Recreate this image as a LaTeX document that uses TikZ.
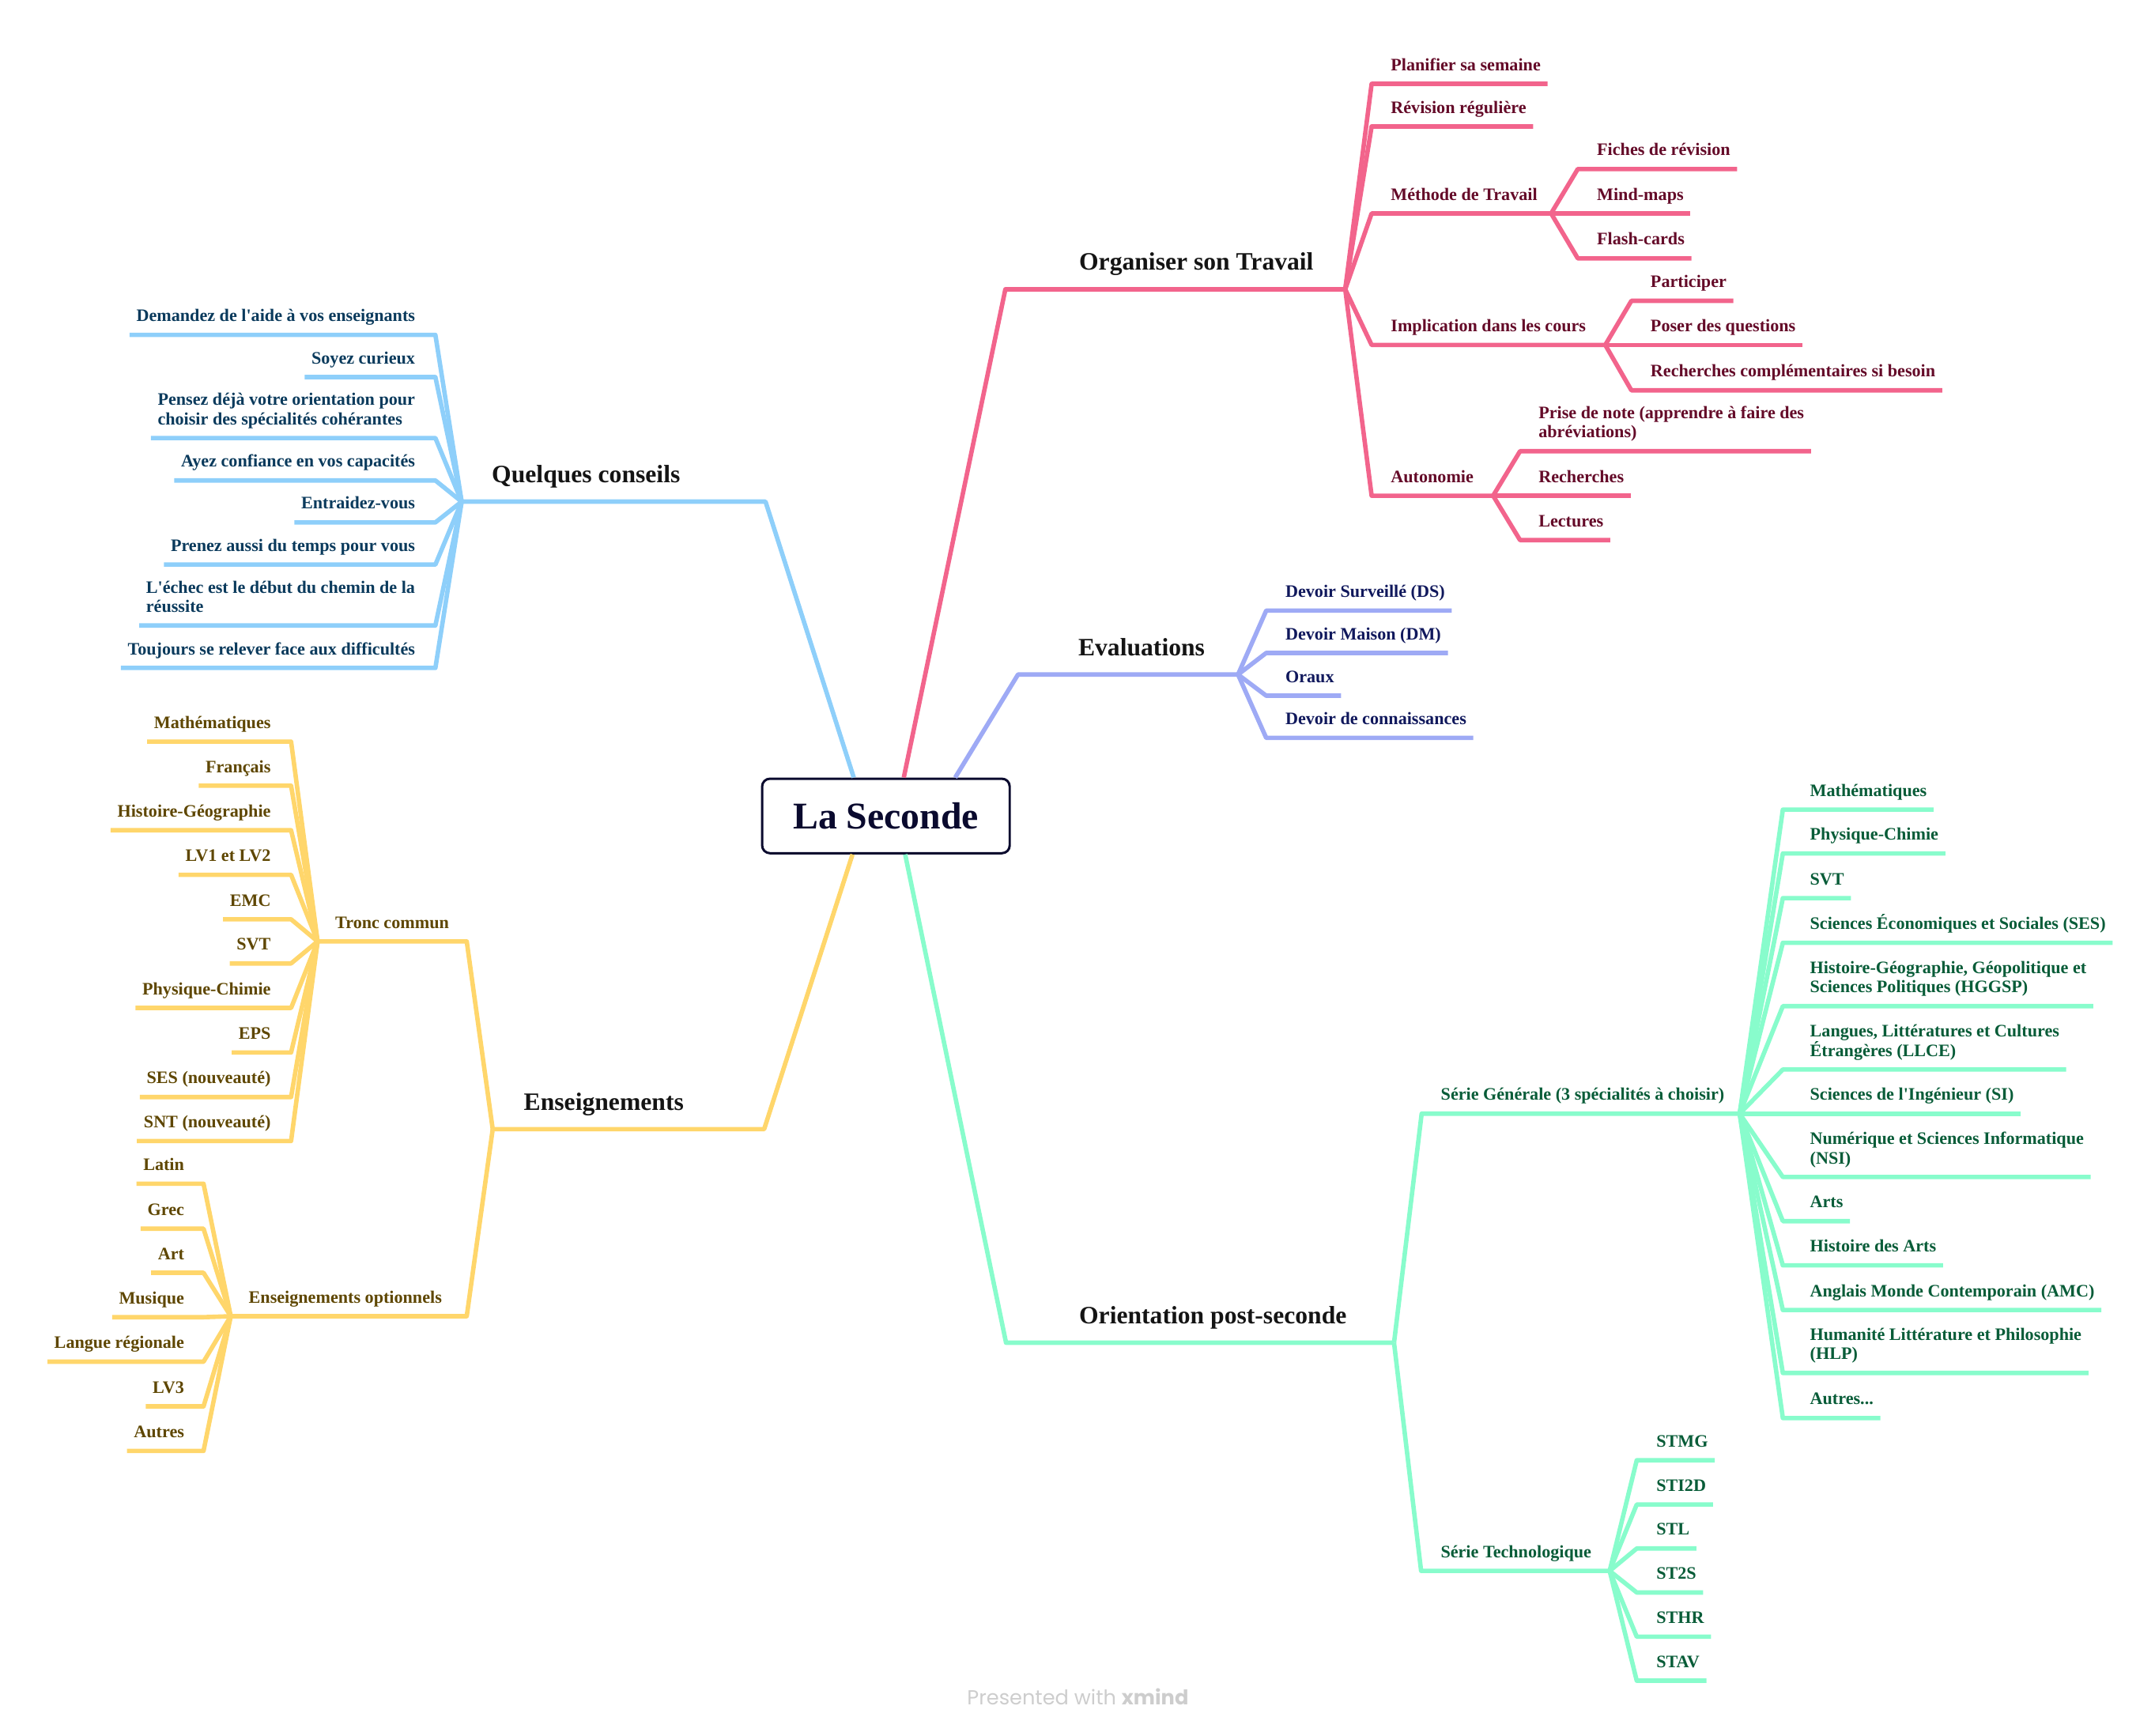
\documentclass[tikz,border=0pt]{standalone}
\usepackage{fontspec}
\setmainfont{Liberation Serif}
\newfontfamily\footfont{Poppins}
\usepackage{tikz}

\definecolor{pinkline}{RGB}{242,100,140}
\definecolor{pinktext}{RGB}{100,10,40}
\definecolor{blueline}{RGB}{142,207,250}
\definecolor{bluetext}{RGB}{10,58,92}
\definecolor{purpline}{RGB}{158,170,245}
\definecolor{purptext}{RGB}{16,24,92}
\definecolor{yelline}{RGB}{255,214,107}
\definecolor{yeltext}{RGB}{94,70,0}
\definecolor{grnline}{RGB}{136,252,204}
\definecolor{grntext}{RGB}{8,92,56}
\definecolor{rootcol}{RGB}{10,10,46}
\definecolor{footgray}{RGB}{205,205,205}

\tikzset{
    rootbox/.style={draw=rootcol, line width=0.85pt, rounded corners=2.8pt, fill=white,
        minimum width=89.1pt, minimum height=26.8pt, inner sep=0pt, text=rootcol,
        font=\fontsize{13.6}{15}\selectfont\bfseries},
    topic/.style={inner sep=0pt, outer sep=0pt, text depth=6.9pt, anchor=south west,
        text=black!92, font=\fontsize{9}{10}\selectfont\bfseries},
    leaf/.style={inner sep=0pt, outer sep=0pt, text depth=4.8pt, align=left,
        font=\fontsize{6.3}{6.9}\selectfont\bfseries},
    pkleaf/.style={leaf, anchor=south west, text=pinktext},
    puleaf/.style={leaf, anchor=south west, text=purptext},
    blleaf/.style={leaf, anchor=south east, text=bluetext},
    yeleaf/.style={leaf, anchor=south east, text=yeltext},
    yesub/.style={leaf, anchor=south west, text=yeltext},
    gnleaf/.style={leaf, anchor=south west, text=grntext},
    pk/.style={draw=pinkline, line width=1.6pt, line join=round},
    pu/.style={draw=purpline, line width=1.6pt, line join=round},
    bl/.style={draw=blueline, line width=1.6pt, line join=round},
    ye/.style={draw=yelline, line width=1.6pt, line join=round},
    gn/.style={draw=grnline, line width=1.6pt, line join=round}
}

\begin{document}
\begin{tikzpicture}[x=0.17385mm, y=-0.17385mm]
    \useasboundingbox (0,0) rectangle (1568,1263);

    % central topic
    \node[rootbox] (root) at (644.6,593.7) {La Seconde};

    % Organiser son Travail
    \coordinate (orgc) at (731.5,210.5);
    \coordinate (orgh) at (978.8,210.5);
    \node[topic] (org) at (785.2,210.5) {Organiser son Travail};
    \draw[pk] ([shift={(13,0)}]root.north) -- (orgc) -- (orgh);

    \node[pkleaf] (pl) at (1012,61) {Planifier sa semaine};
    \node[pkleaf] (rv) at (1012,92) {Révision régulière};
    \node[pkleaf] (mt) at (1012,155.3) {Méthode de Travail};
    \coordinate (mth) at (1128.6,155.3);
    \node[pkleaf] (fr) at (1162,123) {Fiches de révision};
    \node[pkleaf] (mm) at (1162,155.3) {Mind-maps};
    \node[pkleaf] (fc) at (1162,188) {Flash-cards};
    \node[pkleaf] (ic) at (1012,251) {Implication dans les cours};
    \coordinate (ich) at (1168,251);
    \node[pkleaf] (pa) at (1201,218.9) {Participer};
    \node[pkleaf] (pq) at (1201,251) {Poser des questions};
    \node[pkleaf] (rc) at (1201,284) {Recherches complémentaires si besoin};
    \node[pkleaf] (au) at (1012,360.7) {Autonomie};
    \coordinate (auh) at (1086.4,360.7);
    \node[pkleaf] (pn) at (1119.5,328.3) {Prise de note (apprendre à faire des\\abréviations)};
    \node[pkleaf] (re) at (1119.5,360.7) {Recherches};
    \node[pkleaf] (le) at (1119.5,393) {Lectures};

    \draw[pk] (orgh) -- ([shift={(-14,0)}]pl.south west) -- ([shift={(5,0)}]pl.south east);
    \draw[pk] (orgh) -- ([shift={(-14,0)}]rv.south west) -- ([shift={(5,0)}]rv.south east);
    \draw[pk] (orgh) -- ([shift={(-14,0)}]mt.south west) -- (mth);
    \draw[pk] (orgh) -- ([shift={(-14,0)}]ic.south west) -- (ich);
    \draw[pk] (orgh) -- ([shift={(-14,0)}]au.south west) -- (auh);
    \draw[pk] (mth) -- ([shift={(-14,0)}]fr.south west) -- ([shift={(5,0)}]fr.south east);
    \draw[pk] (mth) -- ([shift={(-14,0)}]mm.south west) -- ([shift={(5,0)}]mm.south east);
    \draw[pk] (mth) -- ([shift={(-14,0)}]fc.south west) -- ([shift={(5,0)}]fc.south east);
    \draw[pk] (ich) -- ([shift={(-14,0)}]pa.south west) -- ([shift={(5,0)}]pa.south east);
    \draw[pk] (ich) -- ([shift={(-14,0)}]pq.south west) -- ([shift={(5,0)}]pq.south east);
    \draw[pk] (ich) -- ([shift={(-14,0)}]rc.south west) -- ([shift={(5,0)}]rc.south east);
    \draw[pk] (auh) -- ([shift={(-13.5,0)}]pn.south west) -- ([shift={(5,0)}]pn.south east);
    \draw[pk] (auh) -- ([shift={(-13.5,0)}]re.south west) -- ([shift={(5,0)}]re.south east);
    \draw[pk] (auh) -- ([shift={(-13.5,0)}]le.south west) -- ([shift={(5,0)}]le.south east);

    % Evaluations
    \coordinate (evc) at (740.7,490.8);
    \coordinate (evh) at (900.8,490.8);
    \node[topic] (ev) at (784.6,490.8) {Evaluations};
    \draw[pu] ([shift={(50.4,0)}]root.north) -- (evc) -- (evh);

    \node[puleaf] (ds) at (935.3,444.3) {Devoir Surveillé (DS)};
    \node[puleaf] (dmn) at (935.3,475.1) {Devoir Maison (DM)};
    \node[puleaf] (ora) at (935.3,506.2) {Oraux};
    \node[puleaf] (dco) at (935.3,536.9) {Devoir de connaissances};

    \draw[pu] (evh) -- ([shift={(-14,0)}]ds.south west) -- ([shift={(5,0)}]ds.south east);
    \draw[pu] (evh) -- ([shift={(-14,0)}]dmn.south west) -- ([shift={(5,0)}]dmn.south east);
    \draw[pu] (evh) -- ([shift={(-14,0)}]ora.south west) -- ([shift={(5,0)}]ora.south east);
    \draw[pu] (evh) -- ([shift={(-14,0)}]dco.south west) -- ([shift={(5,0)}]dco.south east);

    % Quelques conseils
    \coordinate (qcc) at (557,365);
    \coordinate (qch) at (335.9,365);
    \node[topic] (qc) at (357.9,365) {Quelques conseils};
    \draw[bl] ([shift={(-23.4,0)}]root.north) -- (qcc) -- (qch);

    \node[blleaf] (da) at (302,243.7) {Demandez de l\textquotesingle aide à vos enseignants};
    \node[blleaf] (sc) at (302,274.4) {Soyez curieux};
    \node[blleaf] (po) at (302,318.7) {Pensez déjà votre orientation pour\\choisir des spécialités cohérantes};
    \node[blleaf] (ac) at (302,349.6) {Ayez confiance en vos capacités};
    \node[blleaf] (en) at (302,380.1) {Entraidez-vous};
    \node[blleaf] (pt) at (302,410.8) {Prenez aussi du temps pour vous};
    \node[blleaf] (ec) at (302,455.1) {L\textquotesingle échec est le début du chemin de la\\réussite};
    \node[blleaf] (tj) at (302,486) {Toujours se relever face aux difficultés};

    \draw[bl] (qch) -- ([shift={(14.8,0)}]da.south east) -- ([shift={(-5,0)}]da.south west);
    \draw[bl] (qch) -- ([shift={(14.8,0)}]sc.south east) -- ([shift={(-5,0)}]sc.south west);
    \draw[bl] (qch) -- ([shift={(14.8,0)}]po.south east) -- ([shift={(-5,0)}]po.south west);
    \draw[bl] (qch) -- ([shift={(14.8,0)}]ac.south east) -- ([shift={(-5,0)}]ac.south west);
    \draw[bl] (qch) -- ([shift={(14.8,0)}]en.south east) -- ([shift={(-5,0)}]en.south west);
    \draw[bl] (qch) -- ([shift={(14.8,0)}]pt.south east) -- ([shift={(-5,0)}]pt.south west);
    \draw[bl] (qch) -- ([shift={(14.8,0)}]ec.south east) -- ([shift={(-5,0)}]ec.south west);
    \draw[bl] (qch) -- ([shift={(14.8,0)}]tj.south east) -- ([shift={(-5,0)}]tj.south west);

    % Enseignements
    \coordinate (ensc) at (556,821.6);
    \coordinate (ensh) at (358.5,821.6);
    \node[topic] (ens) at (381.2,821.6) {Enseignements};
    \draw[ye] ([shift={(-24.3,0)}]root.south) -- (ensc) -- (ensh);

    \coordinate (tcc) at (339.6,685);
    \coordinate (tch) at (231.1,685);
    \node[yesub] (tc) at (244,685) {Tronc commun};
    \draw[ye] (ensh) -- (tcc) -- (tch);

    \node[yeleaf] (ma) at (197,539.6) {Mathématiques};
    \node[yeleaf] (fra) at (197,571.7) {Français};
    \node[yeleaf] (hg) at (197,604.1) {Histoire-Géographie};
    \node[yeleaf] (lv) at (197,636.5) {LV1 et LV2};
    \node[yeleaf] (emc) at (197,668.9) {EMC};
    \node[yeleaf] (svt) at (197,701) {SVT};
    \node[yeleaf] (phc) at (197,733.4) {Physique-Chimie};
    \node[yeleaf] (eps) at (197,765.8) {EPS};
    \node[yeleaf] (ses) at (197,798.2) {SES (nouveauté)};
    \node[yeleaf] (snt) at (197,830.2) {SNT (nouveauté)};

    \draw[ye] (tch) -- ([shift={(14.8,0)}]ma.south east) -- ([shift={(-5,0)}]ma.south west);
    \draw[ye] (tch) -- ([shift={(14.8,0)}]fra.south east) -- ([shift={(-5,0)}]fra.south west);
    \draw[ye] (tch) -- ([shift={(14.8,0)}]hg.south east) -- ([shift={(-5,0)}]hg.south west);
    \draw[ye] (tch) -- ([shift={(14.8,0)}]lv.south east) -- ([shift={(-5,0)}]lv.south west);
    \draw[ye] (tch) -- ([shift={(14.8,0)}]emc.south east) -- ([shift={(-5,0)}]emc.south west);
    \draw[ye] (tch) -- ([shift={(14.8,0)}]svt.south east) -- ([shift={(-5,0)}]svt.south west);
    \draw[ye] (tch) -- ([shift={(14.8,0)}]phc.south east) -- ([shift={(-5,0)}]phc.south west);
    \draw[ye] (tch) -- ([shift={(14.8,0)}]eps.south east) -- ([shift={(-5,0)}]eps.south west);
    \draw[ye] (tch) -- ([shift={(14.8,0)}]ses.south east) -- ([shift={(-5,0)}]ses.south west);
    \draw[ye] (tch) -- ([shift={(14.8,0)}]snt.south east) -- ([shift={(-5,0)}]snt.south west);

    \coordinate (eoc) at (339.6,957.7);
    \coordinate (eoh) at (167.9,957.7);
    \node[yesub] (eo) at (181,957.7) {Enseignements optionnels};
    \draw[ye] (ensh) -- (eoc) -- (eoh);

    \node[yeleaf] (lat) at (134,861.3) {Latin};
    \node[yeleaf] (gre) at (134,894) {Grec};
    \node[yeleaf] (art) at (134,926.1) {Art};
    \node[yeleaf] (mus) at (134,958.4) {Musique};
    \node[yeleaf] (lr) at (134,990.8) {Langue régionale};
    \node[yeleaf] (lvt) at (134,1023.3) {LV3};
    \node[yeleaf] (aut) at (134,1055.7) {Autres};

    \draw[ye] (eoh) -- ([shift={(14.1,0)}]lat.south east) -- ([shift={(-5,0)}]lat.south west);
    \draw[ye] (eoh) -- ([shift={(14.1,0)}]gre.south east) -- ([shift={(-5,0)}]gre.south west);
    \draw[ye] (eoh) -- ([shift={(14.1,0)}]art.south east) -- ([shift={(-5,0)}]art.south west);
    \draw[ye] (eoh) -- ([shift={(14.1,0)}]mus.south east) -- ([shift={(-5,0)}]mus.south west);
    \draw[ye] (eoh) -- ([shift={(14.1,0)}]lr.south east) -- ([shift={(-5,0)}]lr.south west);
    \draw[ye] (eoh) -- ([shift={(14.1,0)}]lvt.south east) -- ([shift={(-5,0)}]lvt.south west);
    \draw[ye] (eoh) -- ([shift={(14.1,0)}]aut.south east) -- ([shift={(-5,0)}]aut.south west);

    % Orientation post-seconde
    \coordinate (opc) at (732,977);
    \coordinate (oph) at (1014.3,977);
    \node[topic] (op) at (785.2,977) {Orientation post-seconde};
    \draw[gn] ([shift={(14,0)}]root.south) -- (opc) -- (oph);

    \coordinate (sgc) at (1034.4,810.3);
    \coordinate (sgh) at (1265.8,810.3);
    \node[gnleaf] (sg) at (1048.4,810.3) {Série Générale (3 spécialités à choisir)};
    \draw[gn] (oph) -- (sgc) -- (sgh);

    \node[gnleaf] (gma) at (1317,589.1) {Mathématiques};
    \node[gnleaf] (gpc) at (1317,621) {Physique-Chimie};
    \node[gnleaf] (gsvt) at (1317,653.5) {SVT};
    \node[gnleaf] (gses) at (1317,686) {Sciences Économiques et Sociales (SES)};
    \node[gnleaf] (ghg) at (1317,732.1) {Histoire-Géographie, Géopolitique et\\Sciences Politiques (HGGSP)};
    \node[gnleaf] (gll) at (1317,778.2) {Langues, Littératures et Cultures\\Étrangères (LLCE)};
    \node[gnleaf] (gsi) at (1317,810.3) {Sciences de l\textquotesingle Ingénieur (SI)};
    \node[gnleaf] (gnsi) at (1317,856.4) {Numérique et Sciences Informatique\\(NSI)};
    \node[gnleaf] (gar) at (1317,888.5) {Arts};
    \node[gnleaf] (gha) at (1317,920.7) {Histoire des Arts};
    \node[gnleaf] (gamc) at (1317,953.2) {Anglais Monde Contemporain (AMC)};
    \node[gnleaf] (ghlp) at (1317,999) {Humanité Littérature et Philosophie\\(HLP)};
    \node[gnleaf] (gaut) at (1317,1031.8) {Autres...};

    \draw[gn] (sgh) -- ([shift={(-19.8,0)}]gma.south west) -- ([shift={(5,0)}]gma.south east);
    \draw[gn] (sgh) -- ([shift={(-19.8,0)}]gpc.south west) -- ([shift={(5,0)}]gpc.south east);
    \draw[gn] (sgh) -- ([shift={(-19.8,0)}]gsvt.south west) -- ([shift={(5,0)}]gsvt.south east);
    \draw[gn] (sgh) -- ([shift={(-19.8,0)}]gses.south west) -- ([shift={(5,0)}]gses.south east);
    \draw[gn] (sgh) -- ([shift={(-19.8,0)}]ghg.south west) -- ([shift={(5,0)}]ghg.south east);
    \draw[gn] (sgh) -- ([shift={(-19.8,0)}]gll.south west) -- ([shift={(5,0)}]gll.south east);
    \draw[gn] (sgh) -- ([shift={(-19.8,0)}]gsi.south west) -- ([shift={(5,0)}]gsi.south east);
    \draw[gn] (sgh) -- ([shift={(-19.8,0)}]gnsi.south west) -- ([shift={(5,0)}]gnsi.south east);
    \draw[gn] (sgh) -- ([shift={(-19.8,0)}]gar.south west) -- ([shift={(5,0)}]gar.south east);
    \draw[gn] (sgh) -- ([shift={(-19.8,0)}]gha.south west) -- ([shift={(5,0)}]gha.south east);
    \draw[gn] (sgh) -- ([shift={(-19.8,0)}]gamc.south west) -- ([shift={(5,0)}]gamc.south east);
    \draw[gn] (sgh) -- ([shift={(-19.8,0)}]ghlp.south west) -- ([shift={(5,0)}]ghlp.south east);
    \draw[gn] (sgh) -- ([shift={(-19.8,0)}]gaut.south west) -- ([shift={(5,0)}]gaut.south east);

    \coordinate (stc) at (1034,1143);
    \coordinate (sth) at (1171.2,1143);
    \node[gnleaf] (st) at (1048.3,1143) {Série Technologique};
    \draw[gn] (oph) -- (stc) -- (sth);

    \node[gnleaf] (stmg) at (1205.2,1062.5) {STMG};
    \node[gnleaf] (sti) at (1205.2,1094.7) {STI2D};
    \node[gnleaf] (stl) at (1205.2,1126.7) {STL};
    \node[gnleaf] (sts) at (1205.2,1158.7) {ST2S};
    \node[gnleaf] (sthr) at (1205.2,1190.9) {STHR};
    \node[gnleaf] (stav) at (1205.2,1222.9) {STAV};

    \draw[gn] (sth) -- ([shift={(-14.3,0)}]stmg.south west) -- ([shift={(5,0)}]stmg.south east);
    \draw[gn] (sth) -- ([shift={(-14.3,0)}]sti.south west) -- ([shift={(5,0)}]sti.south east);
    \draw[gn] (sth) -- ([shift={(-14.3,0)}]stl.south west) -- ([shift={(5,0)}]stl.south east);
    \draw[gn] (sth) -- ([shift={(-14.3,0)}]sts.south west) -- ([shift={(5,0)}]sts.south east);
    \draw[gn] (sth) -- ([shift={(-14.3,0)}]sthr.south west) -- ([shift={(5,0)}]sthr.south east);
    \draw[gn] (sth) -- ([shift={(-14.3,0)}]stav.south west) -- ([shift={(5,0)}]stav.south east);

    % footer
    \node[anchor=base west, inner sep=0pt, text=footgray, font=\footfont\fontsize{7.3}{9}\selectfont] (foot)
        at (703.3,1240.2) {Presented with \textbf{xmind}};
\end{tikzpicture}
\end{document}
